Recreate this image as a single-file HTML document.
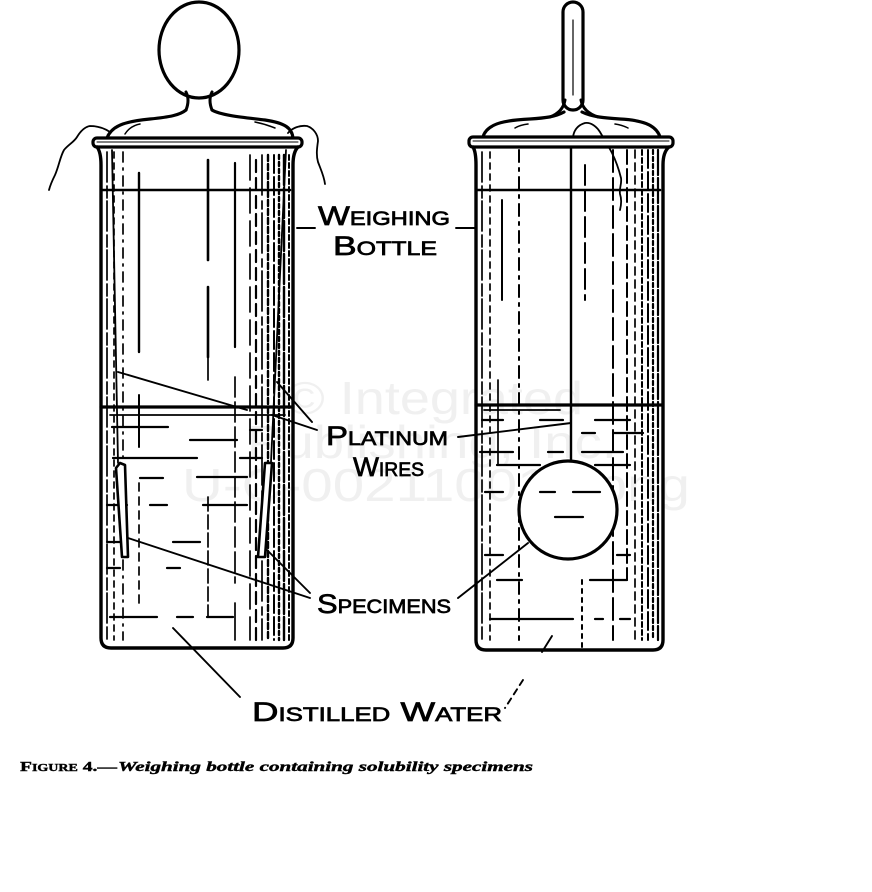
<!DOCTYPE html>
<html><head><meta charset="utf-8"><style>
html,body{margin:0;padding:0;background:#fff;}
svg{display:block;}
.lab{font-family:"Liberation Sans",sans-serif;font-variant:small-caps;font-size:27px;fill:#000;stroke:#000;stroke-width:0.7px;}
</style></head><body>
<svg width="872" height="892" viewBox="0 0 872 892" xmlns="http://www.w3.org/2000/svg">
<rect width="872" height="892" fill="#fff"/>
<!-- watermark -->
<g font-family="Liberation Sans, sans-serif" font-size="46" fill="#f0f0f0">
<text x="285" y="414" textLength="298" lengthAdjust="spacingAndGlyphs">© Integrated</text>
<text x="247" y="458" textLength="370" lengthAdjust="spacingAndGlyphs">Publishing, Inc.</text>
<text x="182" y="501" textLength="508" lengthAdjust="spacingAndGlyphs">U-C-002110015.png</text>
</g>

<g fill="none" stroke="#000" stroke-linecap="round" stroke-linejoin="round">
<!-- ===== LEFT BOTTLE ===== -->
<ellipse cx="199" cy="50" rx="40" ry="48" stroke-width="3.2"/>
<path d="M186,92 Q190,100 186,110 M212,92 Q208,100 212,110" stroke-width="3"/>
<path d="M107,138 C112,124 130,121 150,119 C170,117 180,115 186,110 M212,110 C222,116 250,118 265,120 C285,123 292,128 293,138" stroke-width="3.2"/>
<path d="M125,134 Q130,126 140,124 M255,122 Q265,124 275,128" stroke-width="1.5"/>
<!-- outside wires -->
<path d="M110,132 C104,128 98,126 90,126 C84,127 80,132 77,137 C74,142 68,145 64,150 C60,157 59,166 55,175 C52,181 50,186 49,190" stroke-width="1.8"/>
<path d="M288,133 C292,128 300,125 307,126 C313,128 318,134 318,141 C317,148 316,155 318,162 C321,170 324,176 325,184" stroke-width="1.8"/>
<!-- rim -->
<rect x="93" y="138" width="209" height="9" rx="4" fill="#fff" stroke-width="3.2"/>
<line x1="97" y1="142" x2="298" y2="142" stroke-width="1"/>
<!-- body -->
<path d="M97,147 Q101,152 101,165 L101,638 Q101,648 111,648 L283,648 Q293,648 293,638 L293,165 Q293,152 298,147" stroke-width="3.4"/>
<line x1="101" y1="190" x2="290" y2="190" stroke-width="2.6"/>
<!-- verticals -->
<g stroke-width="1.7">
<line x1="107" y1="152" x2="107" y2="640" stroke-dasharray="30 4 12 3"/>
<line x1="114" y1="152" x2="114" y2="640" stroke-dasharray="6 5"/>
<line x1="123" y1="152" x2="123" y2="640" stroke-dasharray="10 6 2 6"/>
<line x1="139" y1="173" x2="139" y2="352" stroke-width="2.4"/>
<line x1="139" y1="395" x2="139" y2="447" stroke-width="2"/>
<line x1="139" y1="483" x2="139" y2="607" stroke-dasharray="8 6"/>
<line x1="208" y1="160" x2="208" y2="260" stroke-width="2.6"/>
<line x1="208" y1="287" x2="208" y2="357" stroke-width="2.6"/>
<line x1="208" y1="350" x2="208" y2="380"/>
<line x1="208" y1="497" x2="208" y2="617" stroke-dasharray="14 4"/>
<line x1="235" y1="163" x2="235" y2="347" stroke-width="2.2"/>
<line x1="235" y1="377" x2="235" y2="583" stroke-dasharray="20 5"/>
<line x1="235" y1="603" x2="235" y2="640"/>
<line x1="250" y1="155" x2="250" y2="640" stroke-dasharray="25 8"/>
<line x1="256" y1="160" x2="256" y2="640" stroke-dasharray="12 6" stroke-width="2.2"/>
<line x1="262" y1="155" x2="262" y2="640" stroke-dasharray="40 6 8 4"/>
<line x1="268" y1="155" x2="268" y2="640" stroke-dasharray="6 3" stroke-width="2.4"/>
<line x1="274" y1="155" x2="274" y2="640" stroke-dasharray="18 4" stroke-width="2"/>
<line x1="279" y1="155" x2="279" y2="640" stroke-dasharray="4 3" stroke-width="2.4"/>
<line x1="284" y1="155" x2="284" y2="640" stroke-dasharray="30 3" stroke-width="2.4"/>
<line x1="289" y1="155" x2="289" y2="640" stroke-dasharray="5 3" stroke-width="2"/>
</g>
<!-- water lines -->
<line x1="101" y1="407" x2="292" y2="407" stroke-width="3.2"/>
<line x1="110" y1="415" x2="285" y2="415" stroke-width="1.8"/>
<g stroke-width="2.2">
<line x1="112" y1="427" x2="168" y2="427"/>
<line x1="190" y1="440" x2="237" y2="440"/>
<line x1="113" y1="458" x2="197" y2="458"/>
<line x1="140" y1="478" x2="163" y2="478"/>
<line x1="197" y1="477" x2="247" y2="477"/>
<line x1="107" y1="505" x2="127" y2="505"/>
<line x1="150" y1="505" x2="167" y2="505"/>
<line x1="203" y1="505" x2="247" y2="505"/>
<line x1="173" y1="542" x2="200" y2="542"/>
<line x1="107" y1="542" x2="120" y2="542"/>
<line x1="107" y1="568" x2="120" y2="568"/>
<line x1="167" y1="568" x2="180" y2="568"/>
<line x1="110" y1="617" x2="157" y2="617"/>
<line x1="177" y1="617" x2="193" y2="617"/>
<line x1="207" y1="617" x2="233" y2="617"/>
<line x1="250" y1="430" x2="262" y2="430"/>
<line x1="240" y1="458" x2="262" y2="458"/>
</g>
<!-- wires & specimens -->
<line x1="112" y1="150" x2="118" y2="463" stroke-width="1.8"/>
<line x1="286" y1="150" x2="271" y2="462" stroke-width="1.8"/>
<polygon points="116,468 120,463 125,465 128,557 122,557" fill="#fff" stroke-width="2.6"/>
<polygon points="265,463 272,463 265,557 258,557" fill="#fff" stroke-width="2.6"/>
<!-- ===== RIGHT BOTTLE ===== -->
<rect x="563" y="2" width="20" height="108" rx="10" stroke-width="3.2"/>
<line x1="573" y1="20" x2="573" y2="95" stroke-width="1.2"/>
<path d="M565,100 Q563,112 550,117 M581,100 Q583,112 598,117" stroke-width="3"/>
<path d="M483,137 C487,122 510,120 530,119 C545,118 555,117 564,112 M582,112 C592,117 605,118 620,119 C640,120 656,124 660,137" stroke-width="3.2"/>
<path d="M515,128 Q520,125 528,124 M615,124 Q622,125 628,128" stroke-width="1.5"/>
<path d="M573,137 C574,130 578,125 585,123 C591,122 597,127 600,132 C604,139 608,145 612,153 C616,161 619,170 621,178 C622,184 619,188 620,194 C622,200 621,206 620,210" stroke-width="1.8"/>
<rect x="469" y="137" width="204" height="10" rx="4" fill="#fff" stroke-width="3.2"/>
<line x1="473" y1="141" x2="669" y2="141" stroke-width="1"/>
<path d="M473,147 Q476,152 476,165 L476,640 Q476,650 486,650 L653,650 Q663,650 663,640 L663,165 Q663,152 669,147" stroke-width="3.4"/>
<line x1="476" y1="190" x2="660" y2="190" stroke-width="2.6"/>
<g stroke-width="1.7">
<line x1="482" y1="152" x2="482" y2="640" stroke-dasharray="30 4 12 3"/>
<line x1="490" y1="152" x2="490" y2="640" stroke-dasharray="6 5"/>
<line x1="502" y1="200" x2="502" y2="300" stroke-width="2"/>
<line x1="498" y1="380" x2="498" y2="465"/>
<line x1="519" y1="150" x2="519" y2="640" stroke-dasharray="12 6 3 6" stroke-width="2"/>
<line x1="571" y1="147" x2="571" y2="462" stroke-width="2.4"/>
<line x1="585" y1="165" x2="585" y2="300" stroke-dasharray="20 6" stroke-width="2"/>
<line x1="582" y1="580" x2="582" y2="650" stroke-dasharray="4 5" stroke-width="2"/>
<line x1="613" y1="150" x2="613" y2="640" stroke-dasharray="22 6" stroke-width="2"/>
<line x1="627" y1="150" x2="627" y2="580" stroke-dasharray="14 5" stroke-width="2"/>
<line x1="635" y1="150" x2="635" y2="640" stroke-dasharray="8 5"/>
<line x1="642" y1="150" x2="642" y2="640" stroke-dasharray="5 3" stroke-width="2"/>
<line x1="648" y1="150" x2="648" y2="640" stroke-dasharray="18 4" stroke-width="2"/>
<line x1="653" y1="150" x2="653" y2="640" stroke-dasharray="4 3" stroke-width="2.2"/>
<line x1="658" y1="150" x2="658" y2="640" stroke-dasharray="25 3" stroke-width="2.2"/>
</g>
<line x1="476" y1="405" x2="662" y2="405" stroke-width="3.2"/>
<line x1="484" y1="410" x2="560" y2="410" stroke-width="1.8"/>
<g stroke-width="2.2">
<line x1="482" y1="420" x2="503" y2="420"/>
<line x1="540" y1="420" x2="563" y2="420"/>
<line x1="595" y1="420" x2="630" y2="420"/>
<line x1="582" y1="433" x2="595" y2="433"/>
<line x1="613" y1="433" x2="643" y2="433"/>
<line x1="480" y1="452" x2="513" y2="452"/>
<line x1="548" y1="452" x2="563" y2="452"/>
<line x1="582" y1="452" x2="623" y2="452"/>
<line x1="497" y1="465" x2="540" y2="465"/>
<line x1="595" y1="465" x2="630" y2="465"/>
<line x1="485" y1="492" x2="503" y2="492"/>
<line x1="485" y1="555" x2="503" y2="555"/>
<line x1="617" y1="555" x2="630" y2="555"/>
<line x1="497" y1="580" x2="522" y2="580"/>
<line x1="590" y1="580" x2="627" y2="580"/>
<line x1="490" y1="619" x2="573" y2="619"/>
<line x1="595" y1="619" x2="603" y2="619"/>
<line x1="620" y1="619" x2="630" y2="619"/>
</g>
<!-- sphere -->
<circle cx="568" cy="510" r="49" fill="#fff" stroke-width="3.2"/>
<g stroke-width="2.2">
<line x1="540" y1="492" x2="555" y2="492"/>
<line x1="573" y1="492" x2="600" y2="492"/>
<line x1="555" y1="517" x2="583" y2="517"/>
</g>
<!-- ===== LEADERS ===== -->
<g stroke-width="1.9">
<line x1="297" y1="228" x2="315" y2="228"/>
<line x1="456" y1="228" x2="476" y2="228"/>
<line x1="118" y1="372" x2="247" y2="410"/>
<line x1="277" y1="382" x2="312" y2="422"/>
<line x1="272" y1="415" x2="317" y2="430"/>
<line x1="458" y1="437" x2="571" y2="423"/>
<line x1="128" y1="538" x2="310" y2="598"/>
<line x1="267" y1="550" x2="310" y2="593"/>
<line x1="458" y1="598" x2="528" y2="543"/>
<line x1="173" y1="628" x2="240" y2="697"/>
<line x1="552" y1="636" x2="542" y2="652"/>
<line x1="523" y1="680" x2="505" y2="708" stroke-dasharray="6 5"/>
</g>
</g>

<!-- labels -->
<text class="lab" x="318" y="225" textLength="132" lengthAdjust="spacingAndGlyphs">Weighing</text>
<text class="lab" x="333" y="255" textLength="104" lengthAdjust="spacingAndGlyphs">Bottle</text>
<text class="lab" x="326" y="445" textLength="122" lengthAdjust="spacingAndGlyphs">Platinum</text>
<text class="lab" x="353" y="476" textLength="71" lengthAdjust="spacingAndGlyphs">Wires</text>
<text class="lab" x="317" y="613" textLength="134" lengthAdjust="spacingAndGlyphs">Specimens</text>
<text class="lab" x="252" y="721" textLength="250" lengthAdjust="spacingAndGlyphs">Distilled Water</text>

<!-- caption -->
<text x="20" y="771" font-family="Liberation Serif, serif" font-size="14" font-weight="bold" font-variant="small-caps" stroke="#000" stroke-width="0.4" textLength="97" lengthAdjust="spacingAndGlyphs">Figure 4.—</text>
<text x="118" y="771" font-family="Liberation Serif, serif" font-size="14" font-weight="bold" font-style="italic" stroke="#000" stroke-width="0.4" textLength="415" lengthAdjust="spacingAndGlyphs">Weighing bottle containing solubility specimens</text>
</svg>
</body></html>
